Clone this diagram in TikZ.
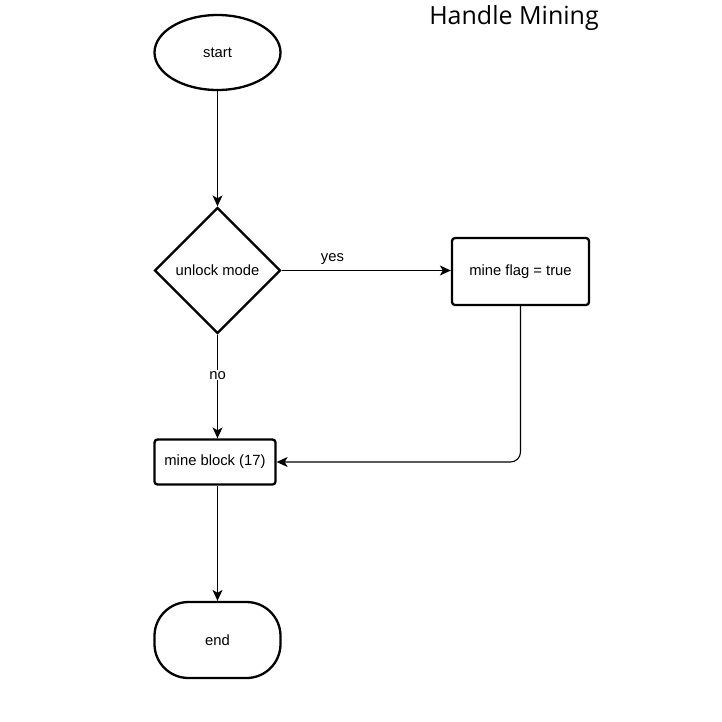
\documentclass[tikz,border=0pt]{standalone}
\usepackage{fontspec}
\setmainfont{Liberation Sans}
\newfontfamily\titlefont{Open Sans}
\usetikzlibrary{shapes.geometric,arrows.meta}
\begin{document}
\begin{tikzpicture}[x=1pt,y=-1pt,
  shp/.style={draw=black,line width=2.3pt,fill=white,font=\fontsize{14.8}{17}\selectfont,inner sep=0pt},
  conn/.style={draw=black,line width=1.1pt,-{Stealth[length=11pt,width=10pt,inset=3pt]}},
  lbl/.style={font=\fontsize{14.8}{17}\selectfont,inner sep=1pt}]
\useasboundingbox (0,0) rectangle (722,721);
\node[shp,ellipse,minimum width=126pt,minimum height=75pt] (start) at (217.5,52.5) {start};
\node[shp,diamond,minimum width=126pt,minimum height=126pt] (dec) at (217.5,270.5) {unlock mode};
\node[shp,rectangle,rounded corners=3pt,minimum width=137pt,minimum height=67pt] (flag) at (520.5,271.5) {mine flag = true};
\node[shp,rectangle,rounded corners=3pt,minimum width=121pt,minimum height=45pt] (block) at (215,462) {mine block (17)};
\node[shp,rectangle,rounded corners=34pt,minimum width=126pt,minimum height=76pt] (end) at (217.5,640) {end};
\node[font=\titlefont\fontsize{25}{29}\selectfont,inner sep=0pt] (title) at (514,18) {Handle Mining};
\coordinate (corner) at (flag.south |- block.east);
\draw[conn] (start.south) -- (dec.north);
\draw[conn] (dec.east) -- node[lbl,above=4pt,pos=0.3] (yes) {yes} (flag.west |- dec.east);
\draw[conn] (dec.south) -- node[lbl,pos=0.39,fill=white] (no) {no} (dec.south |- block.north);
\draw[conn,rounded corners=10pt] (flag.south) -- (corner) -- (block.east);
\draw[conn] (block.south -| end.north) -- (end.north);
\end{tikzpicture}
\end{document}
